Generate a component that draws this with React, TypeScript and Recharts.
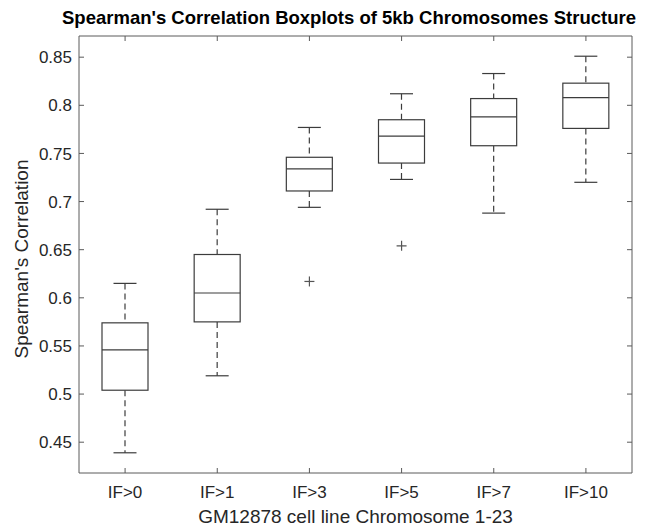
import React from "react";
import { ComposedChart, Bar, Scatter, XAxis, YAxis } from "recharts";

// values
const categories = ["IF>0", "IF>1", "IF>3", "IF>5", "IF>7", "IF>10"];
const lowerWhisker = [0.439, 0.519, 0.694, 0.723, 0.688, 0.72];
const firstQuartile = [0.504, 0.575, 0.711, 0.74, 0.758, 0.776];
const medians = [0.546, 0.605, 0.734, 0.768, 0.788, 0.808];
const thirdQuartile = [0.574, 0.645, 0.746, 0.785, 0.807, 0.823];
const upperWhisker = [0.615, 0.692, 0.777, 0.812, 0.833, 0.851];
const outliers = [null, null, 0.617, 0.654, null, null];
const yTicks = [0.45, 0.5, 0.55, 0.6, 0.65, 0.7, 0.75, 0.8, 0.85];

const data = categories.map((cat, i) => ({
  cat,
  lower: lowerWhisker[i],
  q1: firstQuartile[i],
  median: medians[i],
  q3: thirdQuartile[i],
  upper: upperWhisker[i],
  out: outliers[i],
}));

const AXIS = "#5a5a5a";
const BOX = "#3c3c3c";
const TEXT = "#262626";
const FONT = '"Liberation Sans", Arial, sans-serif';

// draws the whole box + whiskers inside the [lower, upper] range bar
const BoxShape = (props: any) => {
  const { x, y, width, height } = props;
  const d = props.payload ?? props;
  const k = height / (d.upper - d.lower);
  const py = (v: number) => y + (d.upper - v) * k;
  const cx = x + width / 2;
  const cap = width / 4;
  return (
    <g stroke={BOX} strokeWidth={1.2} fill="none">
      <line x1={cx} x2={cx} y1={py(d.upper)} y2={py(d.q3)} strokeDasharray="6 4" />
      <line x1={cx} x2={cx} y1={py(d.q1)} y2={py(d.lower)} strokeDasharray="6 4" />
      <line x1={cx - cap} x2={cx + cap} y1={py(d.upper)} y2={py(d.upper)} />
      <line x1={cx - cap} x2={cx + cap} y1={py(d.lower)} y2={py(d.lower)} />
      <rect x={x} y={py(d.q3)} width={width} height={py(d.q1) - py(d.q3)} fill="#fff" />
      <line x1={x} x2={x + width} y1={py(d.median)} y2={py(d.median)} />
    </g>
  );
};

const PlusShape = (props: any) => {
  const { cx, cy } = props;
  const d = props.payload ?? props;
  if (d.out == null || cx == null || cy == null || isNaN(cy)) return <g />;
  return (
    <g stroke="#555" strokeWidth={1.2}>
      <line x1={cx - 5} x2={cx + 5} y1={cy} y2={cy} />
      <line x1={cx} x2={cx} y1={cy - 5} y2={cy + 5} />
    </g>
  );
};

const LeftTick = ({ x, y, payload }: any) => (
  <g>
    <text x={x} y={y} dy="0.36em" textAnchor="end" fontSize={17} fill={TEXT} fontFamily={FONT}>
      {payload.value}
    </text>
    <line x1={x + 7} x2={x + 12} y1={y} y2={y} stroke={AXIS} />
  </g>
);

const BottomTick = ({ x, y, payload }: any) => (
  <g>
    <text x={x} y={y + 25} textAnchor="middle" fontSize={17} fill={TEXT} fontFamily={FONT}>
      {payload.value}
    </text>
    <line x1={x} x2={x} y1={y} y2={y - 5} stroke={AXIS} />
  </g>
);

const TopTick = ({ x, y }: any) => <line x1={x} x2={x} y1={y} y2={y + 5} stroke={AXIS} />;

const RightTick = ({ x, y }: any) => <line x1={x} x2={x - 5} y1={y} y2={y} stroke={AXIS} />;

export default function App() {
  return (
    <div style={{ position: "absolute", left: 0, top: 0, width: 646, height: 526, background: "#fff" }}>
      <ComposedChart width={646} height={526} data={data} margin={{ top: 0, right: 0, bottom: 0, left: 0 }}>
        <XAxis
          xAxisId="b"
          dataKey="cat"
          type="category"
          height={53}
          interval={0}
          tickSize={0}
          tickMargin={0}
          tickLine={false}
          allowDuplicatedCategory={false}
          axisLine={{ stroke: AXIS }}
          tick={<BottomTick />}
        />
        <XAxis
          xAxisId="t"
          orientation="top"
          dataKey="cat"
          type="category"
          height={36}
          interval={0}
          tickSize={0}
          tickMargin={0}
          tickLine={false}
          allowDuplicatedCategory={false}
          axisLine={{ stroke: AXIS }}
          tick={<TopTick />}
        />
        <YAxis
          yAxisId="l"
          type="number"
          domain={[0.418, 0.872]}
          allowDataOverflow
          ticks={yTicks}
          width={79}
          tickSize={0}
          tickMargin={7}
          tickLine={false}
          axisLine={{ stroke: AXIS }}
          tick={<LeftTick />}
        />
        <YAxis
          yAxisId="r"
          orientation="right"
          type="number"
          domain={[0.418, 0.872]}
          allowDataOverflow
          ticks={yTicks}
          width={14}
          tickSize={0}
          tickMargin={0}
          tickLine={false}
          axisLine={{ stroke: AXIS }}
          tick={<RightTick />}
        />
        <Bar
          xAxisId="b"
          yAxisId="l"
          dataKey={(d: any) => [d.lower, d.upper]}
          barSize={46}
          shape={<BoxShape />}
          isAnimationActive={false}
        />
        <Scatter
          xAxisId="t"
          yAxisId="r"
          dataKey="out"
          shape={<PlusShape />}
          isAnimationActive={false}
        />
      </ComposedChart>
      <svg
        width={646}
        height={526}
        style={{ position: "absolute", left: 0, top: 0, pointerEvents: "none" }}
        fontFamily={FONT}
      >
        <text x={349} y={24} textAnchor="middle" fontSize={18.5} fontWeight="bold" fill="#000">
          Spearman's Correlation Boxplots of 5kb Chromosomes Structure
        </text>
        <text x={355.5} y={523} textAnchor="middle" fontSize={19} fill={TEXT}>
          GM12878 cell line Chromosome 1-23
        </text>
        <text
          transform="translate(28 259) rotate(-90)"
          textAnchor="middle"
          fontSize={19}
          fill={TEXT}
        >
          Spearman's Correlation
        </text>
      </svg>
    </div>
  );
}
